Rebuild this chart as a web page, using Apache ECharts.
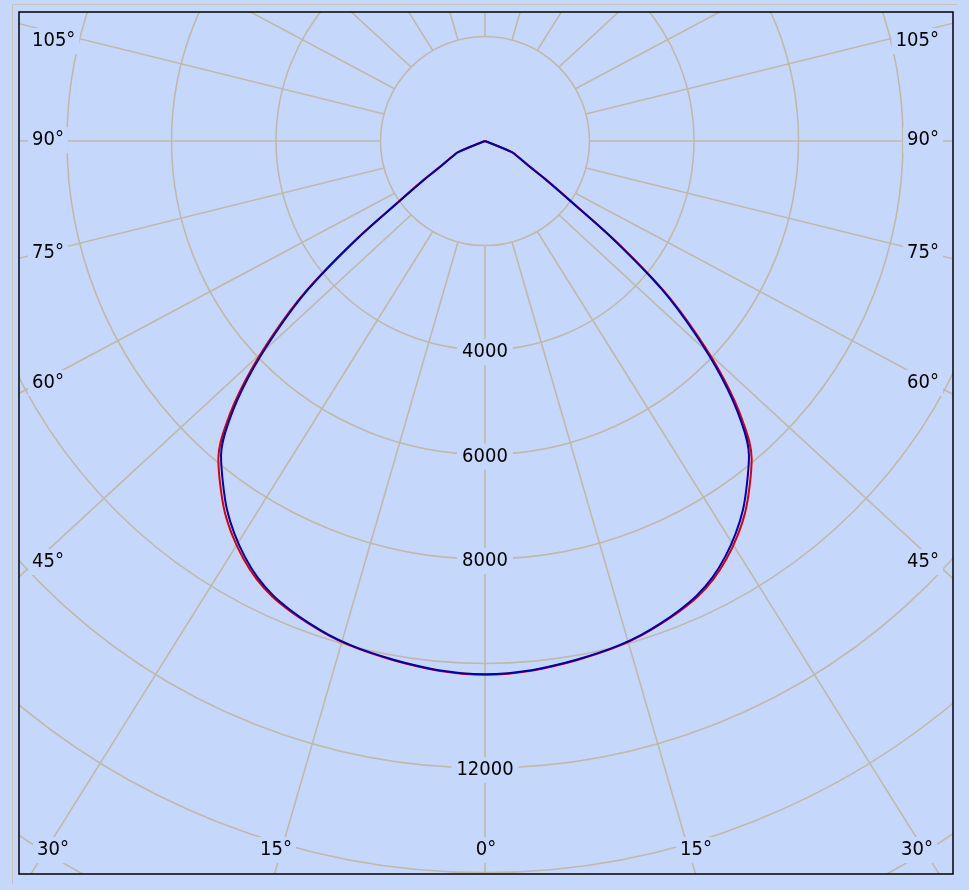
<!DOCTYPE html>
<html>
<head>
<meta charset="utf-8">
<script src="https://cdn.jsdelivr.net/npm/echarts@6/dist/echarts.min.js"></script>
<style>
  html, body { margin: 0; padding: 0; background: #c5d8fc; }
  #chart { width: 969px; height: 890px; }
</style>
</head>
<body>
<div id="chart"></div>
<script>
// ---- data ----
const gammaDeg = [0, 2.5, 5, 7.5, 10, 12.5, 15, 17.5, 20, 22.5, 25, 27.5, 30, 32.5, 35, 37.5, 40, 42.5, 45,
  47.5, 50, 52.5, 55, 57.5, 60, 62.5, 65, 67.5, 70, 72.5, 75, 77.5, 80, 82.5, 85, 87.5, 90];
const intensityRed = [10215, 10205, 10180, 10135, 10090, 10045, 9995, 9925, 9835, 9740, 9625, 9460, 9240, 8980, 8680, 8320, 7940, 7320, 6490,
  5520, 4480, 3180, 2010, 1420, 1020, 825, 680, 570, 0, 0, 0, 0, 0, 0, 0, 0, 0];
const intensityBlue = [10205, 10195, 10170, 10125, 10080, 10035, 9985, 9915, 9825, 9720, 9595, 9420, 9190, 8920, 8610, 8240, 7860, 7240, 6410,
  5440, 4420, 3120, 1960, 1380, 995, 805, 665, 555, 0, 0, 0, 0, 0, 0, 0, 0, 0];
const radiusLabelValues = [4000, 6000, 8000, 12000];
const sideAngleLabels = [105, 90, 75, 60, 45];
const bottomAngleLabels = [30, 15, 0, 15, 30];
const angleGridStep = 15;
const innerRingValue = 2000;

// ---- style ----
const BG = '#c5d8fc';
const GRID = '#c0b9a9';
const FONT_FAMILY = "'DejaVu Sans Condensed', 'Liberation Sans', sans-serif";
const FONT = "20px " + FONT_FAMILY;
const LINE_Y_SQUASH = 0.923;

function polarData(vals) {
  const out = [];
  for (let i = gammaDeg.length - 1; i >= 1; i--) out.push([vals[i], 360 - gammaDeg[i]]);
  for (let i = 0; i < gammaDeg.length; i++) out.push([vals[i], gammaDeg[i]]);
  return out;
}

const gridAngles = [];
for (let a = 0; a < 360; a += angleGridStep) gridAngles.push([innerRingValue, a]);

const sideY = [41, 140, 253, 383, 562];
const bottomX = [53, 276, 486, 696, 917];

const graphics = [
  { type: 'rect', z: 100, shape: { x: 0, y: 0, width: 969, height: 12 }, style: { fill: BG } },
  { type: 'rect', z: 100, shape: { x: 0, y: 874, width: 969, height: 16 }, style: { fill: BG } },
  { type: 'rect', z: 100, shape: { x: 0, y: 0, width: 19, height: 890 }, style: { fill: BG } },
  { type: 'rect', z: 100, shape: { x: 953, y: 0, width: 16, height: 890 }, style: { fill: BG } },
  { type: 'line', z: 101, shape: { x1: 12.5, y1: 4.5, x2: 12.5, y2: 884 }, style: { stroke: '#c9c3b6', lineWidth: 1 } },
  { type: 'line', z: 101, shape: { x1: 12.5, y1: 4.5, x2: 957, y2: 4.5 }, style: { stroke: '#c9c3b6', lineWidth: 1 } },
  { type: 'rect', z: 101, shape: { x: 19, y: 12, width: 934, height: 862 }, style: { fill: null, stroke: '#000', lineWidth: 1.5 } }
];
sideAngleLabels.forEach((a, i) => {
  graphics.push({ type: 'text', z: 110, x: 28, y: sideY[i],
    style: { text: a + '°', font: FONT, fill: '#000', align: 'left', verticalAlign: 'middle', backgroundColor: BG, padding: [3, 4] } });
  graphics.push({ type: 'text', z: 110, x: 943, y: sideY[i],
    style: { text: a + '°', font: FONT, fill: '#000', align: 'right', verticalAlign: 'middle', backgroundColor: BG, padding: [3, 4] } });
});
bottomAngleLabels.forEach((a, i) => {
  graphics.push({ type: 'text', z: 110, x: bottomX[i], y: 850,
    style: { text: a + '°', font: FONT, fill: '#000', align: 'center', verticalAlign: 'middle', backgroundColor: BG, padding: [3, 4] } });
});

const chart = echarts.init(document.getElementById('chart'), null, { renderer: 'canvas' });
chart.setOption({
  animation: false,
  backgroundColor: BG,
  polar: { center: [485, 141], radius: [0, 836] },
  angleAxis: {
    type: 'value', min: 0, max: 360, interval: 15, startAngle: 270, clockwise: true,
    axisLine: { show: false }, axisTick: { show: false }, axisLabel: { show: false },
    splitLine: { show: false }
  },
  radiusAxis: {
    type: 'value', min: 0, max: 16000, interval: 2000,
    axisLine: { show: false }, axisTick: { show: false }, axisLabel: { show: false },
    splitLine: { show: true, lineStyle: { color: GRID, width: 1.6 } }
  },
  series: [
    {
      type: 'custom', coordinateSystem: 'polar', clip: false, silent: true, z: 1,
      data: gridAngles,
      renderItem: function (params, api) {
        const p = api.coord([api.value(0), api.value(1)]);
        const c = api.coord([0, api.value(1)]);
        let dx = p[0] - c[0], dy = (p[1] - c[1]) * LINE_Y_SQUASH;
        const len = Math.hypot(dx, dy);
        dx /= len; dy /= len;
        return { type: 'line', shape: { x1: p[0], y1: p[1], x2: p[0] + dx * 1200, y2: p[1] + dy * 1200 },
          style: { stroke: GRID, lineWidth: 1.6, fill: null } };
      }
    },
    { type: 'line', coordinateSystem: 'polar', clip: false, symbol: 'none', showSymbol: false, smooth: 0.35,
      data: polarData(intensityRed), lineStyle: { color: '#dd0000', width: 2 }, z: 3 },
    { type: 'line', coordinateSystem: 'polar', clip: false, symbol: 'none', showSymbol: false, smooth: 0.35,
      data: polarData(intensityBlue), lineStyle: { color: '#0000b4', width: 2 }, z: 4 },
    { type: 'scatter', coordinateSystem: 'polar', symbolSize: 1, itemStyle: { color: 'rgba(0,0,0,0)' },
      data: radiusLabelValues.map(v => [v, 0]), z: 5,
      label: { show: true, position: 'inside', offset: [0, 2], formatter: p => String(p.value[0]),
        color: '#000', opacity: 1, fontSize: 20, fontFamily: FONT_FAMILY,
        backgroundColor: BG, padding: [3, 5] } }
  ],
  graphic: { elements: graphics }
});
</script>
</body>
</html>
